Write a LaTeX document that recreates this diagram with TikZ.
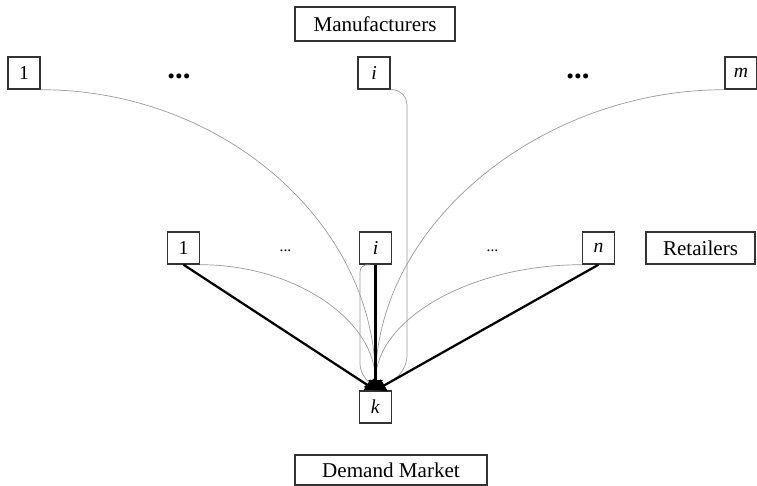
\documentclass[tikz,border=0pt]{standalone}
\usepackage{fontspec}
\setmainfont{Liberation Serif}
\usepackage{tikz}
\usetikzlibrary{arrows.meta}

\begin{document}
\begin{tikzpicture}[x=0.025cm,y=-0.025cm]
  \tikzstyle{unit} = [rectangle, minimum size=0.8cm, inner sep=0pt, text centered, draw=black!80, line width=1pt, font=\fontsize{14}{16}\selectfont]
  \tikzstyle{tier} = [rectangle, minimum height=0.8cm, inner sep=0pt, text centered, draw=black!80, line width=1pt, font=\fontsize{15}{17}\selectfont]
  \tikzstyle{flow} = [line width=1.6pt, black, -{Latex[length=0.25cm,width=0.36cm]}]
  \tikzstyle{eflow} = [line width=0.5pt, black!40, -{Latex[length=0.25cm,width=0.36cm,black]}]
  \useasboundingbox (0,0) rectangle (757,486);

  \node (Mf) [tier, minimum width=4cm, minimum height=0.85cm] at (375,24) {Manufacturers};
  \node (Rt) [tier, minimum width=2.725cm] at (700.5,248) {Retailers};
  \node (Dm) [tier, minimum width=4.8cm, minimum height=0.75cm] at (391,470) {Demand Market};

  \draw (24,73) node[unit] (M1) {1} +(155,3) node (Mx) {\fontsize{22}{22}\selectfont\bfseries ...} +(350,0) node[unit] (Mi) {\textit{i}} +(554,3) node (My) {\fontsize{22}{22}\selectfont\bfseries ...} +(717,0) node[unit] (Mm) {\textit{m}};
  \draw (183.5,248) node[unit] (R1) {1} +(102,3) node (Rx) {\fontsize{11}{11}\selectfont ...} +(192,0) node[unit] (Ri) {\textit{i}} +(309,3) node (Ry) {\fontsize{11}{11}\selectfont ...} +(415,0) node[unit] (Rn) {\textit{n}};
  \node (K) [unit] at (375.5,407) {\textit{k}};

  \coordinate (Ti) at (407,89);
  \coordinate (Tb) at (407,372);
  \coordinate (Si) at (360,264);
  \coordinate (Sb) at (360,372);

  % direct links from manufacturers
  \draw[eflow] (M1.south east) .. controls +(183,0) and +(0,-166) .. (K.north);
  \draw[eflow] (Mm.south west) .. controls +(-183,0) and +(0,-166) .. (K.north);
  \draw[eflow, rounded corners=0.4cm] (Mi.south east) -- (Ti) -- (Tb) -- (K.north);

  % links from retailers
  \draw[eflow] (R1.south east) .. controls +(95,0) and +(0,-70) .. (K.north);
  \draw[eflow] (Rn.south west) .. controls +(-113,0) and +(0,-70) .. (K.north);
  \draw[eflow, rounded corners=0.2cm] ([xshift=0.2cm]Ri.south west) -- (Si) -- (Sb) -- (K.north);

  \draw[flow] (R1.south) -- (K.north);
  \draw[flow] (Ri.south) -- (K.north);
  \draw[flow] (Rn.south) -- (K.north);
\end{tikzpicture}
\end{document}
